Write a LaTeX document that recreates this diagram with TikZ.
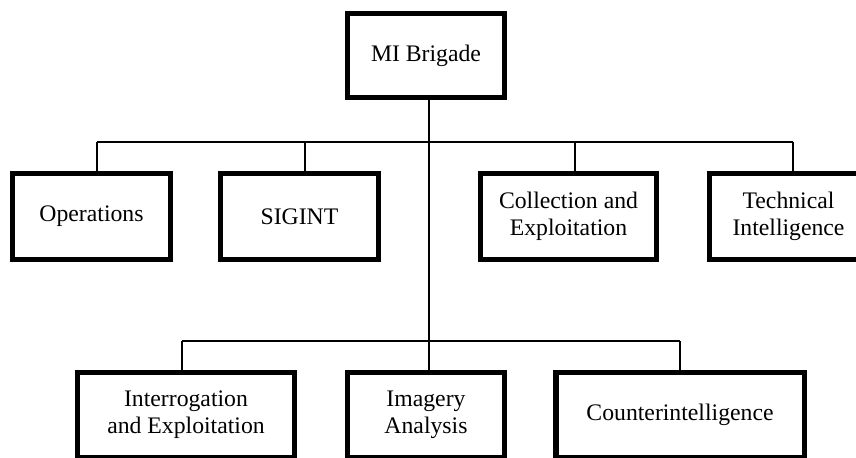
\documentclass[tikz,border=0pt]{standalone}
\usepackage{fontspec}
\setmainfont{Liberation Serif}
\usetikzlibrary{positioning}

\begin{document}
\begin{tikzpicture}[x=0.02cm, y=-0.02cm]
        \tikzstyle{unit} = [rectangle, line width=3.1pt, draw=black, align=center, text centered, font=\fontsize{13.5}{15.5}\selectfont]
        \tikzstyle{link} = [line width=0.6pt]
        \useasboundingbox (0,0) rectangle (856,457);
        \clip (0,0) rectangle (856,457);
        \node [unit, minimum width=3.13cm, minimum height=1.67cm] (1) at (426, 55.5) {MI Brigade};
	 \node [unit, minimum width=3.15cm, minimum height=1.71cm] (2) at (91.5, 216.5) {Operations};
	 \node [unit, minimum width=3.15cm, minimum height=1.71cm] (3) at (299.5, 216.5) {SIGINT};
	 \node [unit, minimum width=3.51cm, minimum height=1.71cm] (4) at (568.5, 216.5) {Collection and\\Exploitation};
	 \node [unit, minimum width=3.15cm, minimum height=1.71cm] (5) at (788.5, 216.5) {Technical\\Intelligence};
	 \node [unit, minimum width=4.33cm, minimum height=1.69cm] (6) at (186, 415) {Interrogation\\and Exploitation};
	 \node [unit, minimum width=3.13cm, minimum height=1.69cm] (7) at (426, 415) {Imagery\\Analysis};
	 \node [unit, minimum width=4.97cm, minimum height=1.69cm] (8) at (680, 415) {Counterintelligence};
        % bus lines
        \coordinate (a1) at (97, 142);
        \coordinate (a2) at (305, 142);
        \coordinate (a3) at (575, 142);
        \coordinate (a4) at (793, 142);
        \coordinate (hub) at (429, 142);
        \coordinate (b1) at (182, 341);
        \coordinate (b2) at (429, 341);
        \coordinate (b3) at (680, 341);
     \draw[link] (hub |- 1.south) -- (b2 |- 7.north);
     \draw[link] (a1) -- (a4);
     \draw[link] (a1) -- (a1 |- 2.north);
     \draw[link] (a2) -- (a2 |- 3.north);
     \draw[link] (a3) -- (a3 |- 4.north);
     \draw[link] (a4) -- (a4 |- 5.north);
     \draw[link] (b1) -- (b3);
     \draw[link] (b1) -- (b1 |- 6.north);
     \draw[link] (b3) -- (b3 |- 8.north);
    \end{tikzpicture}
\end{document}
